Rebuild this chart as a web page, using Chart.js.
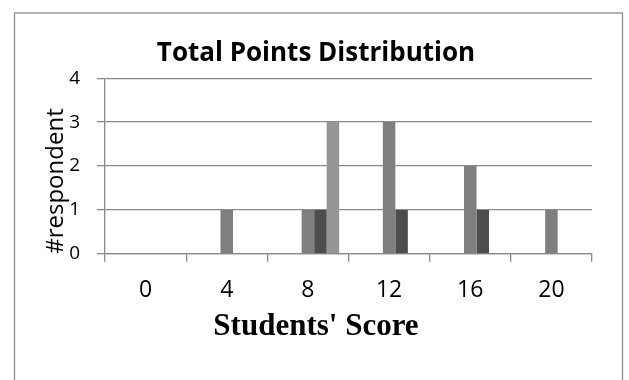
<!DOCTYPE html>
<html>
<head>
<meta charset="utf-8">
<script src="https://cdn.jsdelivr.net/npm/chart.js@4/dist/chart.umd.min.js"></script>
<style>
  html, body { margin: 0; padding: 0; background: #fff; }
</style>
</head>
<body>
<canvas id="myChart" width="629" height="380"></canvas>
<script>
var scoreLabels = ["0", "4", "8", "12", "16", "20"];
var series1 = [0, 0, 0, 0, 0, 0];
var series2 = [0, 0, 0, 0, 0, 0];
var series3 = [0, 1, 1, 3, 2, 1];
var series4 = [0, 0, 1, 1, 1, 0];
var series5 = [0, 0, 3, 0, 0, 0];
var yTicks = [0, 1, 2, 3, 4];

// outer frame like the pasted Excel chart
var frame = {
  id: "frame",
  beforeDraw: function (chart) {
    var c = chart.ctx;
    c.save();
    c.fillStyle = "#fff";
    c.fillRect(0, 0, chart.width, chart.height);
    c.strokeStyle = "#8a8a8a";
    c.lineWidth = 1.3;
    c.strokeRect(14.5, 13, 608, 400);
    c.restore();
  },
};

var ctx = document.getElementById("myChart").getContext("2d");
var myChart = new Chart(ctx, {
  type: "bar",
  data: {
    labels: scoreLabels,
    datasets: [
      { data: series1, backgroundColor: "#bfbfbf" },
      { data: series2, backgroundColor: "#a6a6a6" },
      { data: series3, backgroundColor: "#7f7f7f" },
      { data: series4, backgroundColor: "#4d4d4d" },
      { data: series5, backgroundColor: "#969696" },
    ],
  },
  options: {
    responsive: false,
    animation: false,
    datasets: {
      bar: { categoryPercentage: 0.77, barPercentage: 1.0, borderWidth: 0 },
    },
    layout: { padding: { left: 40, right: 37, top: 38, bottom: 34 } },
    plugins: {
      legend: { display: false },
      tooltip: { enabled: false },
      title: {
        display: true,
        text: "Total Points Distribution",
        color: "#000",
        font: { family: "Open Sans", size: 26, weight: "bold" },
        padding: { top: 0, bottom: 9 },
      },
      subtitle: {
        display: true,
        position: "bottom",
        text: "Students' Score",
        color: "#000",
        font: { family: "Liberation Serif", size: 31, weight: "bold" },
        padding: 0,
      },
    },
    scales: {
      x: {
        grid: {
          display: true,
          drawOnChartArea: false,
          offset: true,
          tickLength: 8,
          color: "#8a8a8a",
          lineWidth: 1.3,
        },
        border: { color: "#8a8a8a", width: 1.3 },
        ticks: {
          color: "#000",
          font: { family: "Open Sans", size: 23 },
          padding: 15,
          maxRotation: 0,
          autoSkip: false,
        },
        afterFit: function (s) {
          s.height = 55;
        },
      },
      y: {
        min: 0,
        max: 4,
        afterBuildTicks: function (s) {
          s.ticks = yTicks.map(function (v) {
            return { value: v };
          });
        },
        ticks: {
          color: "#000",
          font: { family: "Open Sans", size: 19 },
          padding: 17,
        },
        grid: { color: "#8a8a8a", lineWidth: 1.3, tickLength: 8 },
        border: { color: "#8a8a8a", width: 1.3 },
        title: {
          display: true,
          text: "#respondent",
          align: "start",
          color: "#000",
          font: { family: "Open Sans", size: 24 },
          padding: { top: 2, bottom: 0 },
        },
        afterFit: function (s) {
          s.width = 65;
        },
      },
    },
  },
  plugins: [frame],
});
</script>
</body>
</html>
